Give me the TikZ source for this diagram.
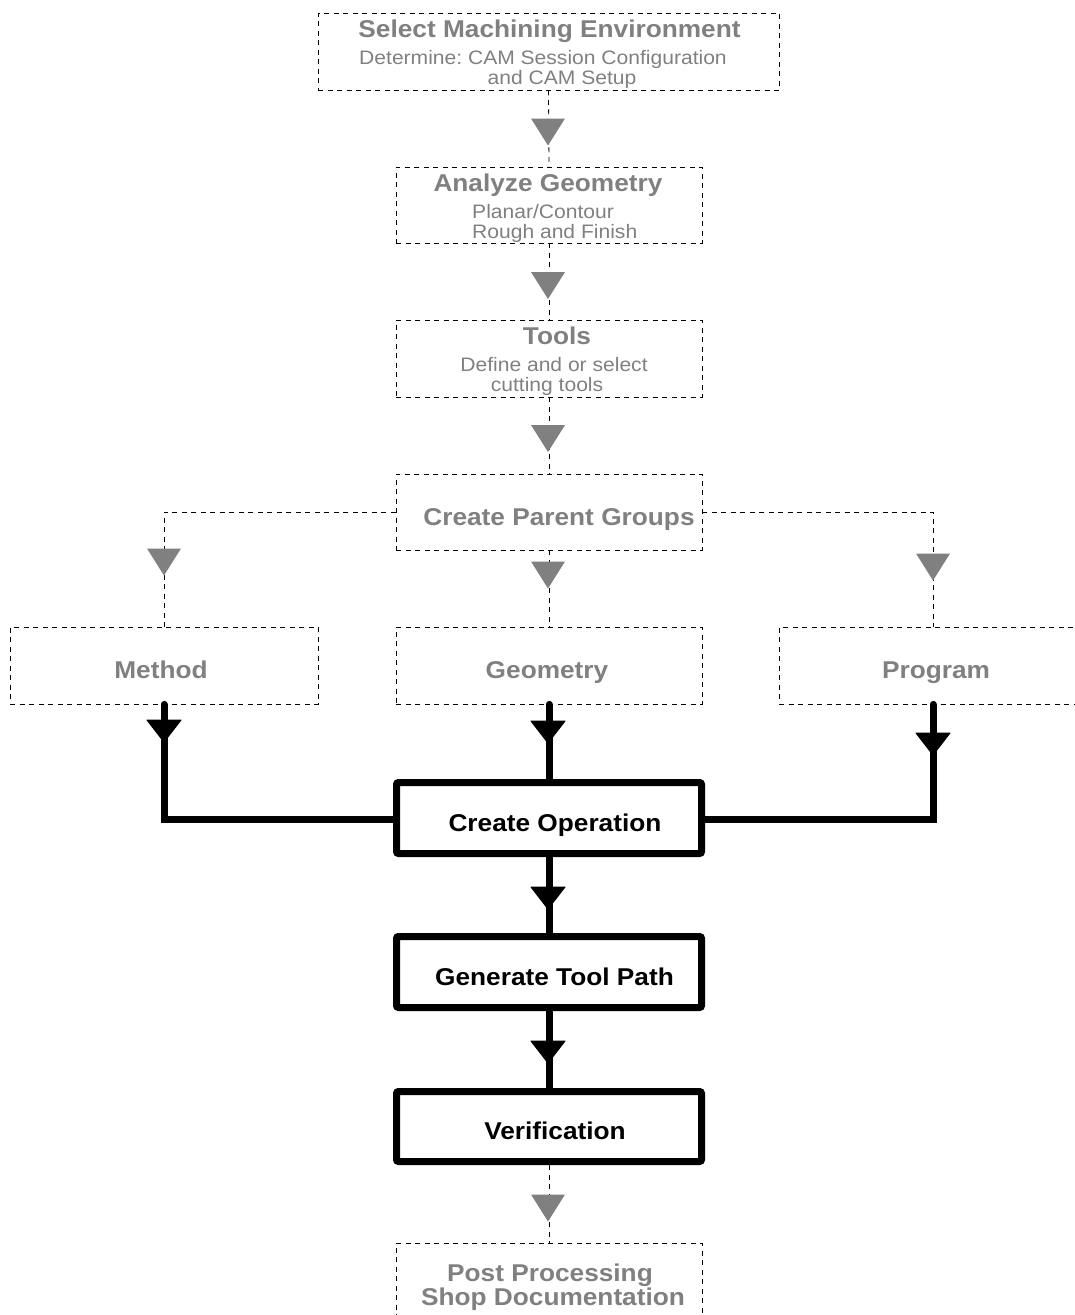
\documentclass[tikz,border=0pt]{standalone}
\usepackage{fontspec}
\setmainfont{Liberation Sans}[FakeStretch=1.08]
\frenchspacing
\definecolor{tg}{HTML}{808080}
\tikzset{
  dbox/.style={draw=black, line width=0.8pt, dash pattern=on 5pt off 4.5pt, rectangle, inner sep=0pt},
  tbox/.style={draw=black, line width=7pt, rounded corners=2pt, rectangle, inner sep=0pt, fill=white},
  ttl/.style={text=tg, font=\fontsize{24.3}{28}\selectfont\bfseries, anchor=base, inner sep=0pt},
  sub/.style={text=tg, font=\fontsize{19.5}{22}\selectfont, anchor=base, inner sep=0pt},
  btl/.style={text=black, font=\fontsize{24.3}{28}\selectfont\bfseries, anchor=base, inner sep=0pt},
  dconn/.style={draw=black, line width=0.8pt, dash pattern=on 5pt off 4.5pt},
  tconn/.style={draw=black, line width=7pt, line cap=round},
}
\newcommand\graytri[2]{\fill[tg] (#1-17,#2-13.5) -- (#1+17,#2-13.5) -- (#1,#2+13.5) -- cycle;}
\newcommand\blacktri[2]{\filldraw[black, line width=1pt, line join=round] (#1-17,#2) -- (#1+17,#2) -- (#1,#2+22) -- cycle;}
\begin{document}
\begin{tikzpicture}[x=1pt,y=-1pt]
\useasboundingbox (0,0) rectangle (1075,1315);
\clip (0,0) rectangle (1075,1315);

% dashed boxes
\node[dbox, minimum width=461pt, minimum height=77pt] (b1) at (548.5,51.5) {};
\node[dbox, minimum width=306pt, minimum height=76pt] (b2) at (549,205) {};
\node[dbox, minimum width=306pt, minimum height=77pt] (b3) at (549,358.5) {};
\node[dbox, minimum width=306pt, minimum height=76pt] (b4) at (549,512) {};
\node[dbox, minimum width=308pt, minimum height=77pt] (meth) at (164,665.5) {};
\node[dbox, minimum width=306pt, minimum height=77pt] (geo) at (549,665.5) {};
\node[dbox, minimum width=308pt, minimum height=77pt] (prog) at (933,665.5) {};
\node[dbox, minimum width=306pt, minimum height=77pt] (post) at (549,1281.5) {};

% dashed connectors
\draw[dconn] (b1.south) -- (b2.north);
\draw[dconn] (b2.south) -- (b3.north);
\draw[dconn] (b3.south) -- (b4.north);
\draw[dconn] (b4.west) -| (meth.north);
\draw[dconn] (b4.south) -- (geo.north);
\draw[dconn] (b4.east) -| (prog.north);

% thick connectors
\coordinate (cc) at (549,819);
\draw[tconn] (meth.south) |- (cc);
\draw[tconn] (prog.south) |- (cc);
\draw[tconn] (geo.south) -- (cc);
\draw[tconn] (cc) -- (549,1126);

% thick boxes
\node[tbox, minimum width=305pt, minimum height=71pt] (cop) at (549,818) {};
\node[tbox, minimum width=305pt, minimum height=71pt] (gen) at (549,972) {};
\node[tbox, minimum width=305pt, minimum height=70pt] (ver) at (549,1126.5) {};

\draw[dconn] (ver.south) -- (post.north);

% triangles
\graytri{548}{132}
\graytri{548}{285.5}
\graytri{548}{438.5}
\graytri{164}{562}
\graytri{548}{575}
\graytri{933}{567}
\graytri{548}{1208}
\blacktri{164}{720}
\blacktri{548}{721}
\blacktri{933}{733}
\blacktri{548}{887}
\blacktri{548}{1041}

% texts
\node[ttl] (t1) at (549.5,37.5) {Select Machining Environment};
\node[sub] (s1a) at (543,64.3) {Determine: CAM Session Configuration};
\node[sub] (s1b) at (562,84.3) {and CAM Setup};
\node[ttl] (t2) at (548,191.5) {Analyze Geometry};
\node[sub, anchor=base west] (s2a) at (472,218.3) {Planar/Contour};
\node[sub, anchor=base west] (s2b) at (472,238.3) {Rough and Finish};
\node[ttl] (t3) at (557,344.5) {Tools};
\node[sub] (s3a) at (554,371.3) {Define and or select};
\node[sub] (s3b) at (547,391.3) {cutting tools};
\node[ttl] (t4) at (559,525) {Create Parent Groups};
\node[ttl] (tm) at (161,678) {Method};
\node[ttl] (tg) at (547,678) {Geometry};
\node[ttl] (tp) at (936,678) {Program};
\node[btl] (tc) at (555,831.5) {Create Operation};
\node[btl] (tgn) at (554.5,985.5) {Generate Tool Path};
\node[btl] (tv) at (555,1139.5) {Verification};
\node[ttl] (tpp) at (550,1281.5) {Post Processing};
\node[ttl] (tsd) at (553,1305.5) {Shop Documentation};
\end{tikzpicture}
\end{document}
